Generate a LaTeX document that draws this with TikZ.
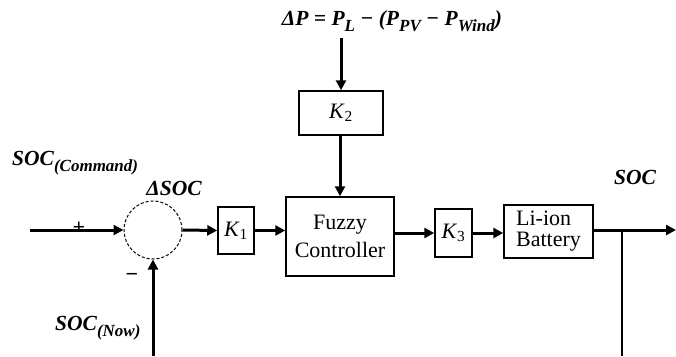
\documentclass[tikz,border=0pt]{standalone}
\usepackage{fontspec}
\setmainfont{Liberation Serif}
\usetikzlibrary{arrows.meta}

\newcommand{\lowidx}[1]{\raisebox{-0.3em}{\fontsize{17}{17}\selectfont #1}}

\tikzset{
  block/.style={draw, line width=1.5pt, inner sep=1pt,
    font=\fontsize{22}{28}\selectfont},
  sig/.style={line width=3pt, -{Triangle[length=10pt,width=10pt]}},
  lbl/.style={inner sep=0pt, font=\fontsize{21.5}{22}\selectfont\bfseries\itshape},
}

\begin{document}
\begin{tikzpicture}[x=1pt, y=-1pt]
  \useasboundingbox (0,0) rectangle (676,356);

  \coordinate (cmdin) at (30,230);
  \coordinate (nowin) at (153,356);
  \coordinate (br) at (622,230);
  \coordinate (brend) at (622,356);
  \coordinate (out) at (676,230);

  \node[draw, circle, densely dashed, line width=1pt, minimum size=58pt, inner sep=0pt] (sum) at (153,230) {};
  \node[block, minimum width=36pt, minimum height=47pt] (k1) at (236,230.5) {\textit{K}\textsubscript{1}};
  \node[block, minimum width=84pt, minimum height=44pt] (k2) at (341,113) {\textit{K}\textsubscript{2}};
  \node[block, minimum width=108pt, minimum height=79pt, align=center] (fuzzy) at (340,236.5) {Fuzzy\\Controller};
  \node[block, minimum width=37pt, minimum height=48pt] (k3) at (453.5,233) {\textit{K}\textsubscript{3}};
  \node[block, minimum width=89pt, minimum height=53pt, align=left,
    font=\fontsize{22}{21}\selectfont] (bat) at (548.5,231.5) {Li-ion\\Battery};

  \node[lbl, anchor=south] (dp) at (392,32) {ΔP = P\lowidx{L} − (P\lowidx{PV} − P\lowidx{Wind})};
  \node[lbl, anchor=west] (cmd) at (12,163) {SOC\lowidx{(Command)}};
  \node[lbl] (dsoc) at (174,188) {ΔSOC};
  \node[lbl, anchor=west] (now) at (55,328) {SOC\lowidx{(Now)}};
  \node[lbl] (soc) at (635,177) {SOC};
  \node[font=\fontsize{22}{22}\selectfont\bfseries, inner sep=0pt] (plus) at (79,228) {+};
  \node[font=\fontsize{22}{22}\selectfont\bfseries, inner sep=0pt] (minus) at (132,277) {−};

  \draw[sig] (dp.south -| k2.north) ++(0,6) -- (k2.north);
  \draw[sig] (k2.south -| fuzzy.north) -- (fuzzy.north);
  \draw[sig] (cmdin) -- (sum.west);
  \draw[sig] (nowin) -- (sum.south);
  \draw[sig] (sum.east) -- (k1.west);
  \draw[sig] (k1.east) -- (k1.east -| fuzzy.west);
  \draw[sig] (fuzzy.east |- k3.west) -- (k3.west);
  \draw[sig] (k3.east) -- (k3.east -| bat.west);
  \draw[sig] (bat.east |- out) -- (out);
  \draw[line width=1.5pt] (br) -- (brend);
\end{tikzpicture}
\end{document}
